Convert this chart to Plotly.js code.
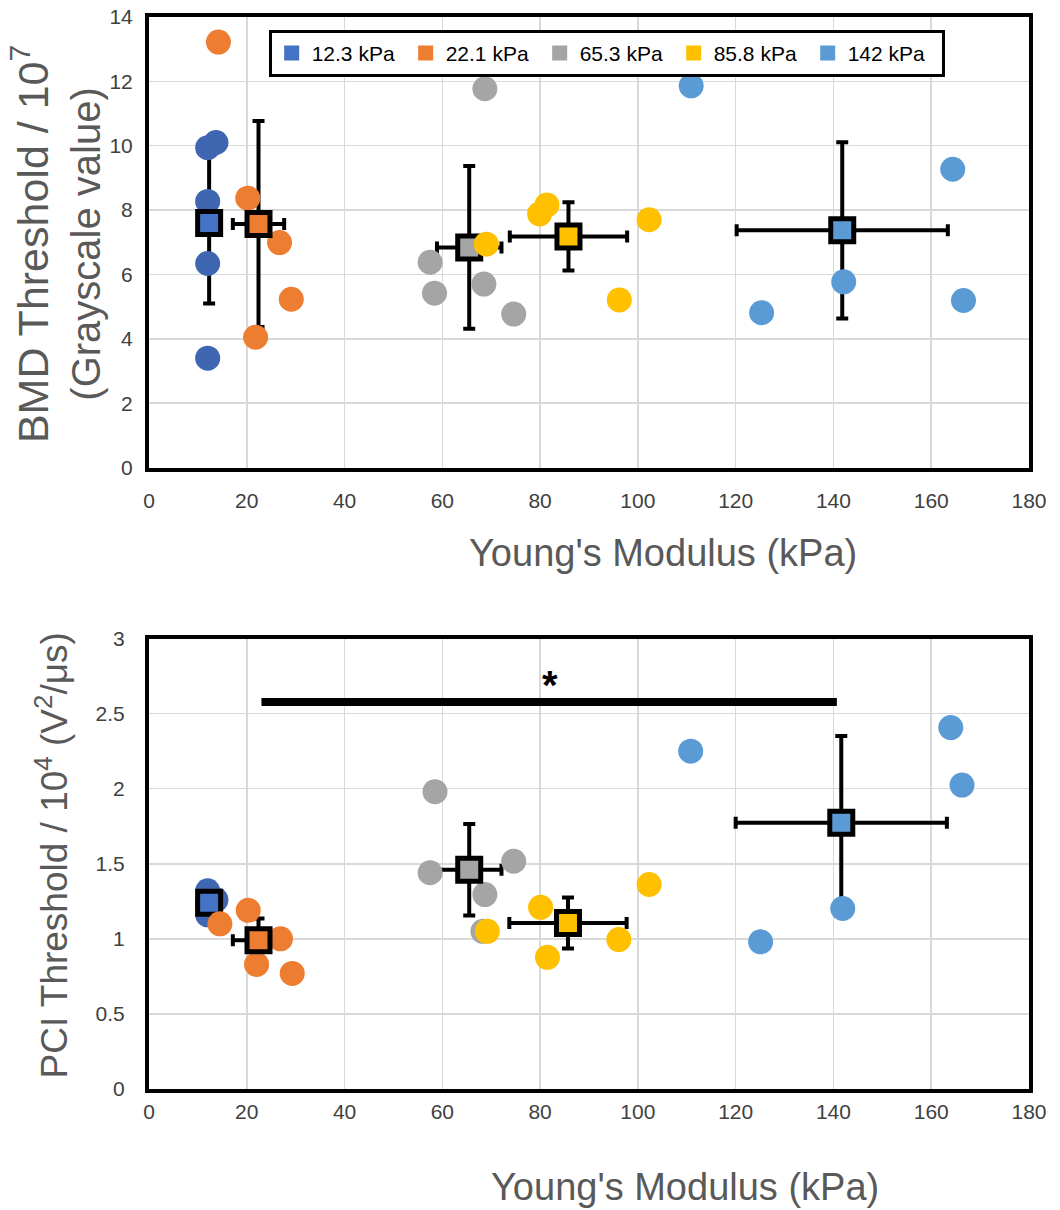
<!DOCTYPE html>
<html>
<head>
<meta charset="utf-8">
<script src="https://cdn.plot.ly/plotly-3.0.1.min.js"></script>
<style>html,body{margin:0;padding:0;background:#fff;}</style>
</head>
<body>
<div id="chart" style="width:1060px;height:1210px;"></div>
<script>
// ---------- data ----------
const groupNames = ['12.3 kPa', '22.1 kPa', '65.3 kPa', '85.8 kPa', '142 kPa'];
const pointColors = ['#3F66B0', '#ED7D31', '#A5A5A5', '#FFC000', '#5B9BD5'];
const meanColors  = ['#4472C4', '#ED7D31', '#A5A5A5', '#FFC000', '#5B9BD5'];

// Top panel: BMD threshold (/1e7)
const bmdX = [
  [12.0, 13.7, 12.0, 12.0, 12.0],
  [14.2, 20.2, 26.7, 29.1, 21.8],
  [68.7, 57.5, 58.4, 68.5, 74.6],
  [81.4, 79.9, 69.0, 102.3, 96.2],
  [110.9, 164.4, 142.1, 125.3, 166.6]
];
const bmdY = [
  [9.94, 10.10, 8.27, 6.34, 3.40],
  [13.22, 8.37, 6.99, 5.23, 4.05],
  [11.77, 6.38, 5.42, 5.70, 4.77],
  [8.16, 7.88, 6.94, 7.70, 5.21],
  [11.86, 9.27, 5.77, 4.81, 5.19]
];
const bmdMeanX = [12.3, 22.4, 65.5, 85.8, 141.8];
const bmdMeanY = [7.60, 7.57, 6.84, 7.18, 7.37];
const bmdErrX  = [0.8, 5.25, 6.6, 12.0, 21.6];
const bmdErrY  = [2.50, 3.20, 2.53, 1.06, 2.74];

// Bottom panel: PCI threshold (/1e4)
const pciX = [
  [12.0, 13.7, 12.0, 12.0, 12.0],
  [14.5, 20.3, 26.9, 29.3, 22.0],
  [58.5, 57.5, 74.6, 68.7, 68.3],
  [80.1, 69.2, 81.5, 96.1, 102.3],
  [110.8, 164.0, 166.3, 141.9, 125.1]
];
const pciY = [
  [1.32, 1.26, 1.16, 1.25, 1.22],
  [1.10, 1.19, 1.00, 0.77, 0.83],
  [1.98, 1.44, 1.517, 1.295, 1.05],
  [1.21, 1.05, 0.877, 0.995, 1.362],
  [2.25, 2.407, 2.024, 1.202, 0.98]
];
const pciMeanX = [12.3, 22.4, 65.5, 85.7, 141.6];
const pciMeanY = [1.24, 0.99, 1.46, 1.105, 1.773];
const pciErrX  = [0.8, 5.25, 6.6, 12.0, 21.6];
const pciErrY  = [0.06, 0.145, 0.305, 0.17, 0.578];

// significance bracket (bottom panel)
const sigX = [23.0, 140.7];
const sigY = [2.577, 2.577];
const sigLabelX = 82.1;
const sigLabelY = 2.69;

const xTickVals = [0, 20, 40, 60, 80, 100, 120, 140, 160, 180];

// ---------- build traces ----------
const FONT = 'Liberation Sans, Arial, Helvetica, sans-serif';
const traces = [];

function addPanel(xs, ys, mx, my, ex, ey, xa, ya) {
  // error bars first (under the points)
  for (let g = 0; g < 5; g++) {
    traces.push({
      type: 'scatter', mode: 'markers', xaxis: xa, yaxis: ya,
      x: [mx[g]], y: [my[g]], showlegend: false, hoverinfo: 'skip',
      marker: {size: 2, color: 'rgba(0,0,0,0)'},
      error_x: {type: 'data', array: [ex[g]], color: 'black', thickness: 4, width: 6},
      error_y: {type: 'data', array: [ey[g]], color: 'black', thickness: 4, width: 6}
    });
  }
  for (let g = 0; g < 5; g++) {
    traces.push({
      type: 'scatter', mode: 'markers', xaxis: xa, yaxis: ya,
      x: xs[g], y: ys[g], showlegend: false,
      marker: {symbol: 'circle', size: 25, color: pointColors[g], line: {width: 0}}
    });
    traces.push({
      type: 'scatter', mode: 'markers', xaxis: xa, yaxis: ya,
      x: [mx[g]], y: [my[g]], showlegend: false,
      marker: {symbol: 'square', size: 23, color: meanColors[g], line: {width: 5, color: 'black'}}
    });
  }
}

addPanel(bmdX, bmdY, bmdMeanX, bmdMeanY, bmdErrX, bmdErrY, 'x', 'y');
addPanel(pciX, pciY, pciMeanX, pciMeanY, pciErrX, pciErrY, 'x2', 'y2');

// significance line
traces.push({
  type: 'scatter', mode: 'lines', xaxis: 'x2', yaxis: 'y2',
  x: sigX, y: sigY, showlegend: false, hoverinfo: 'skip',
  line: {color: 'black', width: 8}
});

// legend-only entries
for (let g = 0; g < 5; g++) {
  traces.push({
    type: 'scatter', mode: 'markers', xaxis: 'x', yaxis: 'y',
    x: [null], y: [null], name: groupNames[g], showlegend: true,
    marker: {symbol: 'square', size: 15, color: meanColors[g]}
  });
}

const axisCommon = {
  range: [0, 180], tickvals: xTickVals, showgrid: true, gridcolor: '#D9D9D9', gridwidth: 1.5,
  showline: true, mirror: true, linecolor: 'black', linewidth: 4, zeroline: false,
  ticks: '', tickfont: {family: FONT, size: 21, color: '#404040'}, fixedrange: true
};

const layout = {
  width: 1060, height: 1210,
  margin: {l: 148.5, r: 31, t: 17, b: 121, pad: 0},
  paper_bgcolor: 'white', plot_bgcolor: 'white',
  showlegend: true,
  legend: {
    orientation: 'h', x: 0.136, y: 0.988, xanchor: 'left', yanchor: 'top',
    bordercolor: 'black', borderwidth: 3, bgcolor: 'white',
    font: {family: FONT, size: 21, color: 'black'},
    entrywidth: 89, itemwidth: 30, traceorder: 'normal'
  },
  xaxis: Object.assign({}, axisCommon, {domain: [0, 1], anchor: 'y', ticklabelstandoff: 11}),
  yaxis: {
    domain: [0.5797, 1], anchor: 'x', range: [0, 14], dtick: 2,
    showgrid: true, gridcolor: '#D9D9D9', gridwidth: 1.5,
    showline: true, mirror: true, linecolor: 'black', linewidth: 4, zeroline: false,
    ticks: '', ticklabelstandoff: 8, tickfont: {family: FONT, size: 21, color: '#404040'}, fixedrange: true
  },
  xaxis2: Object.assign({}, axisCommon, {domain: [0, 1], anchor: 'y2', ticklabelstandoff: 1}),
  yaxis2: {
    domain: [0, 0.4202], anchor: 'x2', range: [0, 3], dtick: 0.5,
    showgrid: true, gridcolor: '#D9D9D9', gridwidth: 1.5,
    showline: true, mirror: true, linecolor: 'black', linewidth: 4, zeroline: false,
    ticks: '', ticklabelstandoff: 16, tickfont: {family: FONT, size: 21, color: '#404040'}, fixedrange: true
  },
  annotations: [
    {xref: 'paper', yref: 'paper', x: 0.584, y: 0.50, xanchor: 'center', yanchor: 'middle',
     text: "Young's Modulus (kPa)", showarrow: false, font: {family: FONT, size: 38, color: '#595959'}},
    {xref: 'paper', yref: 'paper', x: 0.609, y: -0.0914, xanchor: 'center', yanchor: 'middle',
     text: "Young's Modulus (kPa)", showarrow: false, font: {family: FONT, size: 38, color: '#595959'}},
    {xref: 'paper', yref: 'paper', x: -0.107, y: 0.788, xanchor: 'center', yanchor: 'middle', textangle: -90,
     text: '<span style="font-size:43px">BMD Threshold / 10<sup>7</sup></span><br>(Grayscale value)', showarrow: false,
     font: {family: FONT, size: 40, color: '#595959'}},
    {xref: 'paper', yref: 'paper', x: -0.11, y: 0.218, xanchor: 'center', yanchor: 'middle', textangle: -90,
     text: 'PCI Threshold / 10<sup>4</sup> (V<sup>2</sup>/μs)', showarrow: false,
     font: {family: FONT, size: 37, color: '#595959'}},
    {xref: 'x2', yref: 'y2', x: sigLabelX, y: sigLabelY, xanchor: 'center', yanchor: 'middle',
     text: '<b>*</b>', showarrow: false, font: {family: FONT, size: 40, color: 'black'}}
  ]
};

Plotly.newPlot('chart', traces, layout, {displayModeBar: false, staticPlot: true});
</script>
</body>
</html>
